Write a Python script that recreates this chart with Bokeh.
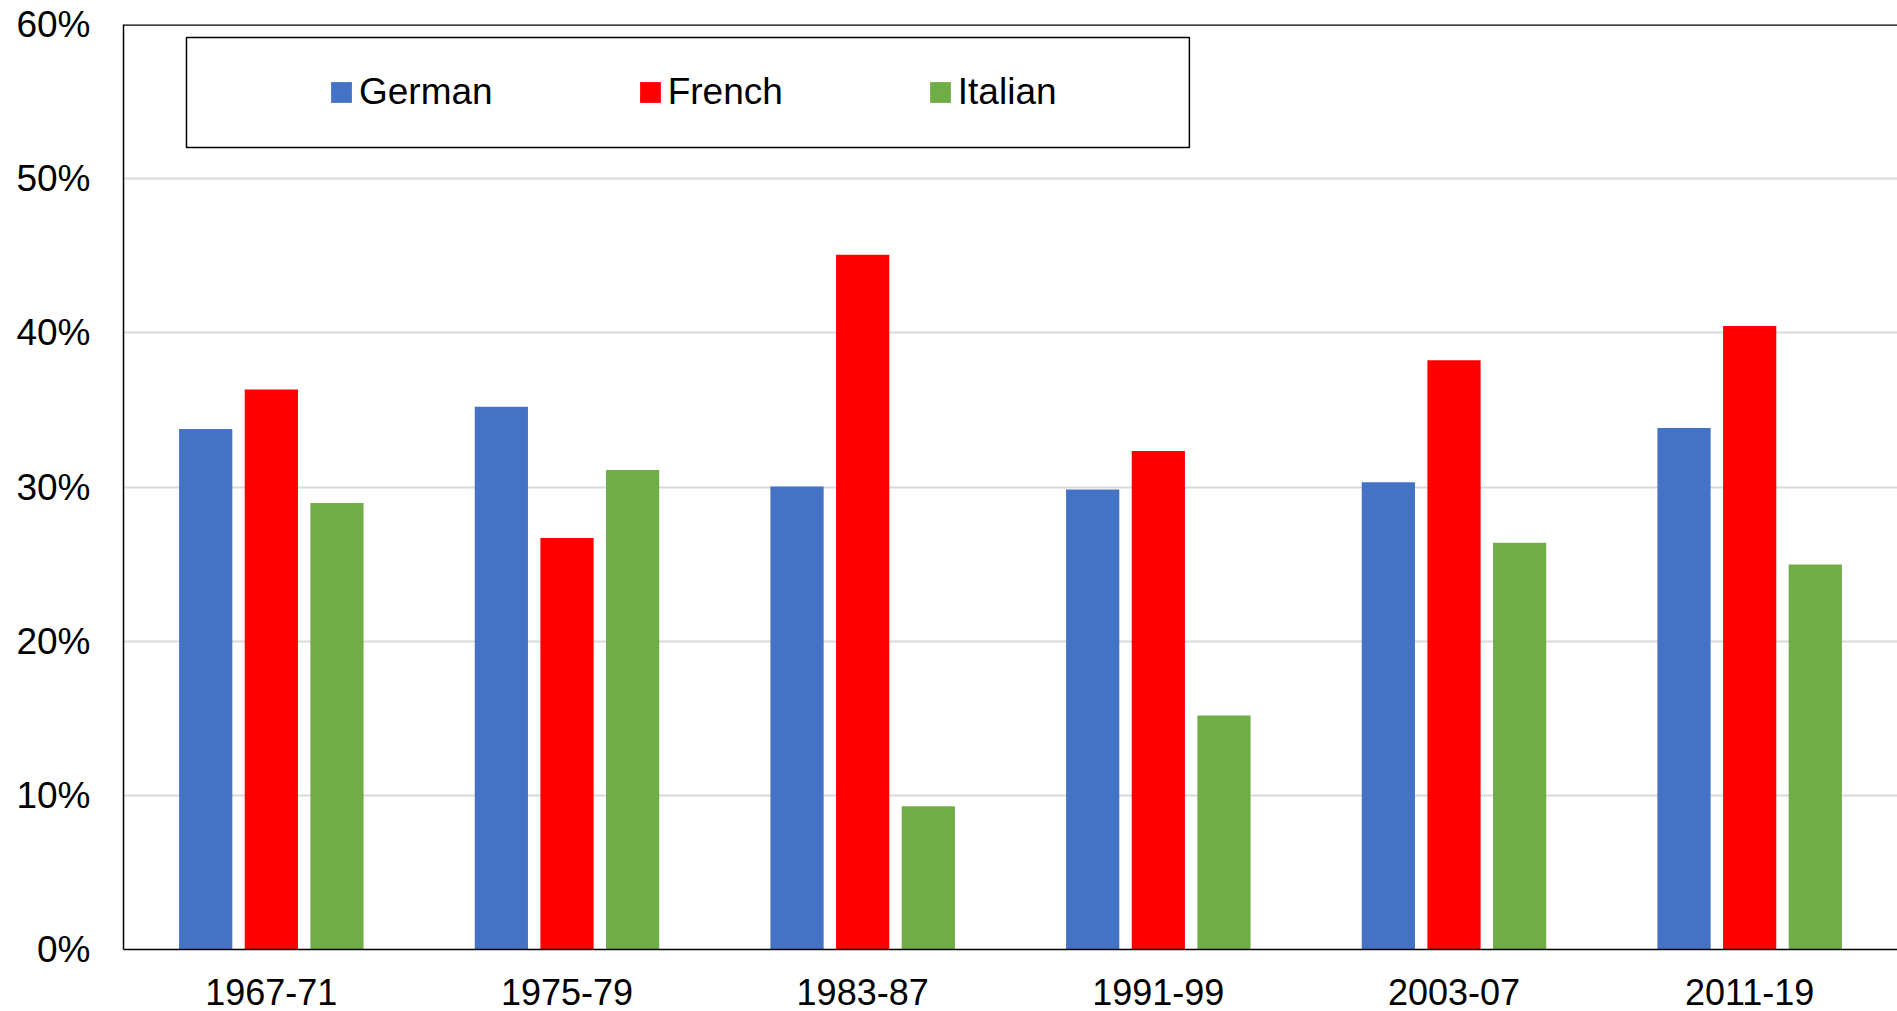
from bokeh.plotting import figure
from bokeh.models import (ColumnDataSource, FactorRange, Range1d, NumeralTickFormatter,
                          FixedTicker, Legend, LegendItem, BoxAnnotation, Span)
from bokeh.transform import dodge
from bokeh.embed import file_html
from bokeh.resources import INLINE

periods = ["1967-71", "1975-79", "1983-87", "1991-99", "2003-07", "2011-19"]
german = [0.3377, 0.3521, 0.3003, 0.2983, 0.3031, 0.3383]
french = [0.3632, 0.2670, 0.4507, 0.3234, 0.3822, 0.4045]
italian = [0.2897, 0.3111, 0.0929, 0.1518, 0.2639, 0.2497]
series = ["German", "French", "Italian"]
colors = ["#4472C4", "#FF0000", "#70AD47"]

FONT = "Liberation Sans"

src = ColumnDataSource(dict(period=periods, German=german, French=french, Italian=italian))

p = figure(x_range=FactorRange(*periods), y_range=Range1d(0, 0.6),
           width=1897, height=1011, output_backend="svg", toolbar_location=None,
           min_border_left=123, min_border_right=0, min_border_top=24, min_border_bottom=62)
p.outline_line_color = None
p.background_fill_color = "white"
p.border_fill_color = "white"

offsets = [-0.222, 0.0, 0.222]
renderers = []
for name, col, off in zip(series, colors, offsets):
    r = p.vbar(x=dodge("period", off, range=p.x_range), top=name, bottom=0, width=0.18,
               source=src, fill_color=col, line_color=None)
    renderers.append(r)

# axes
p.yaxis.ticker = FixedTicker(ticks=[0, 0.1, 0.2, 0.3, 0.4, 0.5, 0.6])
p.yaxis.formatter = NumeralTickFormatter(format="0%")
for ax in (p.xaxis[0], p.yaxis[0]):
    ax.major_tick_line_color = None
    ax.minor_tick_line_color = None
    ax.axis_line_color = "black"
    ax.axis_line_width = 1.5
    ax.major_label_text_font = FONT
    ax.major_label_text_color = "black"
p.xaxis.major_label_text_font_size = "36px"
p.yaxis.major_label_text_font_size = "37px"
p.yaxis.major_label_standoff = 27
p.xaxis.major_label_standoff = 23

p.xgrid.grid_line_color = None
p.ygrid.grid_line_color = "#D9D9D9"
p.ygrid.grid_line_width = 2

# top border of plot area
p.add_layout(Span(location=0.6, dimension="width", line_color="black", line_width=2.5))

# legend frame
p.add_layout(BoxAnnotation(left=0.213, right=3.605, top=0.5916, bottom=0.5202,
                           fill_color=None, fill_alpha=0, line_color="black",
                           line_alpha=1, line_width=1.5))

legend = Legend(items=[LegendItem(label=s, renderers=[r]) for s, r in zip(series, renderers)],
                orientation="horizontal", location=(205, 836),
                border_line_color=None, background_fill_alpha=0,
                padding=0, margin=0, spacing=144,
                glyph_width=26, glyph_height=26, label_standoff=5,
                label_text_font=FONT, label_text_font_size="37px", label_text_color="black")
p.add_layout(legend)

open("out.html", "w").write(file_html(p, INLINE))
